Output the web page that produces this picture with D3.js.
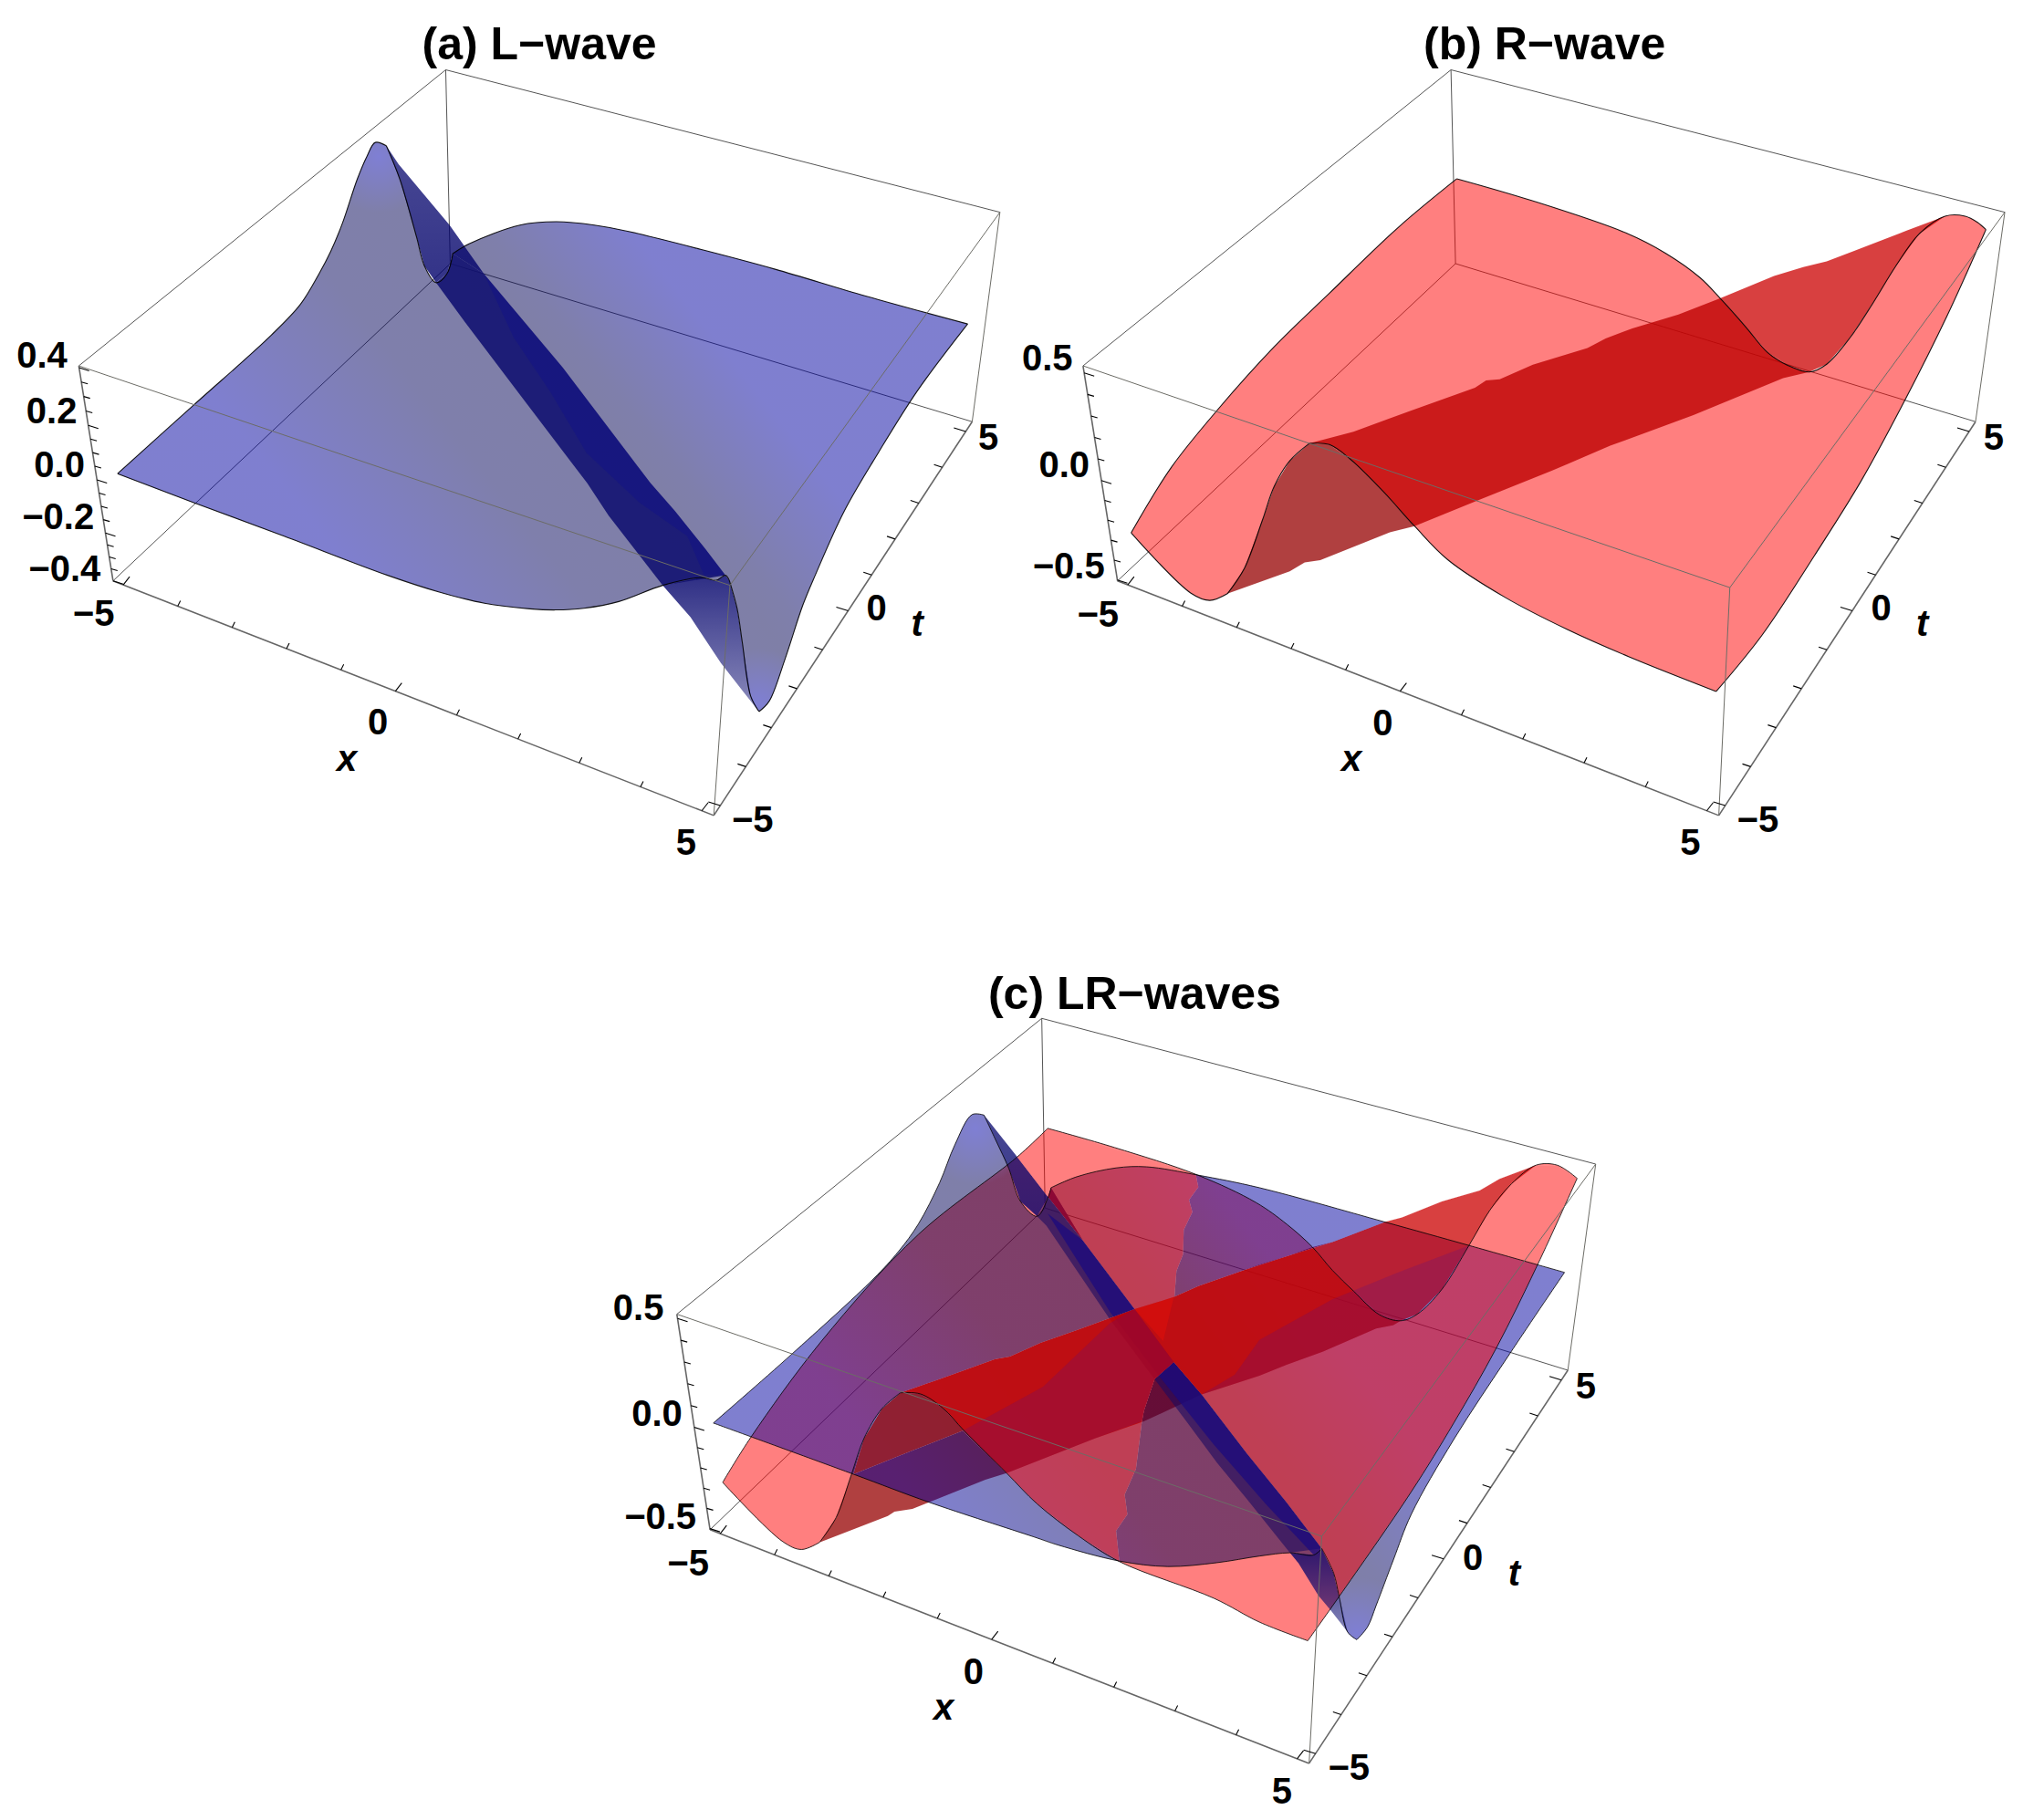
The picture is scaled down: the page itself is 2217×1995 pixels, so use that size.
<!DOCTYPE html>
<html><head><meta charset="utf-8">
<style>html,body{margin:0;padding:0;background:#fff}svg{display:block}text{font-family:"Liberation Sans",Arial,sans-serif;font-weight:700;fill:#000}</style>
<script src="https://cdn.jsdelivr.net/npm/d3@7"></script>
</head><body>
<script>
// ---- shared axis values ----
const xtValues = d3.range(-5, 6, 1);
const xtMajor = [-5, 0, 5];
const zValuesA = d3.range(-8, 9).map(i => i * 0.05);
const zMajorA = [-0.4, -0.2, 0, 0.2, 0.4];
const zValuesB = d3.range(-5, 6).map(i => i * 0.1);
const zMajorB = [-0.5, 0, 0.5];

// ---- panel (a): projected values (units: read grid 0..1568) ----
const aBox = [[690,125],[122,655],[1548,380],[1130,1048],[175,1040],[1505,755],[1105,1460],[697,472]];
const aLeftEdge = [[182,848],[300,725],[420,600],[465,545],[494,490],[512,450],[530,400],[553,321],[568,280],[581,255],[598,261]];
const aFoldTopLine = [[598,261],[619,321],[645,425],[657,476],[675,506],[692,490],[701,454]];
const aBackEdge = [[701,454],[727,436],[805,403],[861,397],[920,403],[975,415],[1090,448],[1200,482],[1340,530],[1498,580]];
const aRightEdge = [[1498,580],[1420,700],[1360,810],[1307,915],[1262,1030],[1243,1083],[1215,1181],[1191,1255],[1175,1274]];
const aFoldBottomLine = [[1175,1274],[1162,1246],[1149,1149],[1141,1089],[1129,1039]];
const aFrontEdge = [[1129,1039],[1123,1030],[1109,1039],[1085,1034],[1026,1048],[958,1077],[904,1089],[860,1092],[820,1090],[750,1080],[680,1060],[600,1030],[440,960],[300,900],[182,848]];
const aRidgeRight = [[598,261],[617,294],[696,403],[749,490],[871,658],[1007,865],[1045,915],[1092,983],[1123,1030]];
const aRidgeLeft = [[675,506],[720,577],[805,707],[909,865],[942,923],[1026,1048]];
const aTailLeft = [[1026,1048],[1069,1105],[1116,1187],[1149,1236],[1175,1274]];
const aRidgeInner = [[749,490],[795,604],[852,702],[908,811],[990,900],[1064,960],[1090,1030]];
const aLabels = [["0.4",65,635],["0.2",80,735],["0.0",92,832],["−0.2",90,925],["−0.4",100,1018],["−5",145,1098],["0",585,1292],["5",1062,1507],["−5",1165,1467],["0",1357,1088],["5",1530,782]];
const aAxisNames = [["x",537,1357],["t",1420,1115]];
const aTitle = ["(a) L−wave",835,78];

// ---- panel (b) ----
const bBox = [[688,125],[122,655],[1540,380],[1117,1052],[175,1040],[1495,755],[1100,1460],[695,472]];
const bLeftEdge = [[196,954],[257,838],[328,735],[416,621],[501,525],[608,406],[697,320]];
const bTopEdge = [[697,320],[812,359],[957,417],[1019,454],[1071,497],[1102,534],[1142,586],[1175,631],[1206,654],[1239,666],[1266,652],[1301,606],[1337,543],[1372,477],[1408,419],[1448,387],[1479,387],[1498,398],[1511,411]];
const bRightEdge = [[1511,411],[1451,566],[1387,715],[1318,863],[1247,995],[1166,1138],[1096,1238]];
const bFrontEdge = [[1096,1238],[962,1176],[867,1127],[772,1070],[683,1002],[632,942],[583,879],[533,822],[501,796],[470,794]];
const bFoldLeftLine = [[470,794],[440,825],[416,871],[398,931],[370,1018],[344,1063]];
const bCornerEdge = [[344,1063],[317,1075],[288,1062],[196,954]];
const bRidgeUpper = [[470,794],[538,773],[627,735],[725,694],[742,681],[763,679],[814,653],[898,623],[926,606],[967,588],[1038,563],[1102,534],[1185,494],[1230,478],[1266,468],[1342,434],[1389,413],[1448,387]];
const bRidgeLower = [[344,1063],[440,1023],[463,1007],[487,1003],[594,953],[632,942],[725,898],[843,843],[933,798],[1061,743],[1199,677],[1239,666]];
const bLabels = [["0.5",67,640],["0.0",93,832],["−0.5",100,1012],["−5",145,1100],["0",583,1293],["5",1056,1507],["−5",1160,1467],["0",1350,1088],["5",1523,782]];
const bAxisNames = [["x",535,1357],["t",1413,1115]];
const bTitle = ["(b) R−wave",832,78];

// ---- panel (c) ----
const cBox = [[690,110],[140,648],[1525,375],[1112,1052],[190,1040],[1483,750],[1093,1465],[695,455]];
const cBlueLeftEdge = [[195,846],[312,722],[436,584],[474,534],[504,484],[536,409],[559,340],[585,285],[603,286]];
const cBlueFoldTopLine = [[603,286],[622,335],[640,382],[658,443],[683,470],[699,437],[704,418]];
const cBlueBackEdge = [[704,418],[743,398],[802,382],[848,380],[925,395],[1018,418],[1206,480],[1334,523],[1478,572]];
const cBlueRightEdge = [[1478,572],[1396,719],[1311,876],[1247,1012],[1220,1095],[1194,1178],[1181,1217],[1165,1240]];
const cBlueFoldBottomLine = [[1165,1240],[1151,1226],[1138,1160],[1130,1119],[1112,1074]];
const cBlueFrontEdge = [[1112,1074],[1100,1086],[1064,1082],[1018,1088],[954,1100],[880,1107],[807,1097],[715,1068],[678,1053],[520,990],[406,939],[195,846]];
const cBlueRidgeRight = [[603,286],[651,359],[697,431],[752,514],[830,639],[889,735],[931,794],[999,901],[1059,990],[1112,1074]];
const cBlueRidgeLeft = [[683,470],[697,487],[793,658],[860,766],[908,843],[954,918],[999,984],[1064,1082]];
const cBlueTailLeft = [[1064,1082],[1077,1101],[1107,1160],[1126,1187],[1151,1226]];
const cBlueRidgeInner = [[699,465],[745,553],[793,644],[860,750],[949,885],[1029,995],[1100,1086]];
const cRedLeftEdge = [[209,954],[252,871],[358,697],[504,503],[653,362],[699,310]];
const cRedTopEdge = [[699,310],[800,345],[925,395],[1013,445],[1060,485],[1098,526],[1128,568],[1160,606],[1199,649],[1231,660],[1256,648],[1293,603],[1334,523],[1366,458],[1398,411],[1435,377],[1467,377],[1497,401]];
const cRedRightEdge = [[1497,401],[1437,559],[1375,710],[1311,846],[1247,971],[1138,1162],[1091,1242]];
const cRedFrontEdge = [[1091,1242],[1018,1208],[950,1165],[807,1098],[745,1051],[683,993],[637,937],[573,860],[541,819],[507,793],[477,791]];
const cRedFoldLeftLine = [[477,791],[449,820],[422,874],[403,940],[380,1018],[355,1063]];
const cRedCornerEdge = [[355,1063],[328,1076],[300,1062],[209,954]];
const cRedRidgeUpper = [[477,791],[536,766],[619,730],[642,725],[688,700],[743,677],[830,639],[889,617],[926,597],[990,570],[1018,558],[1064,541],[1098,526],[1128,517],[1208,480],[1233,472],[1293,443],[1350,423],[1380,402],[1435,377]];
const cRedRidgeLower = [[355,1063],[458,1015],[468,1007],[495,1002],[520,990],[605,949],[637,937],[770,874],[844,843],[931,794],[1018,760],[1059,740],[1114,716],[1194,674],[1220,668],[1231,660]];
const cRedOnTopUpper = [[645,365],[699,310],[922,393],[926,417],[912,440],[917,462],[904,495],[903,539],[893,570],[890,617],[830,639],[752,514],[697,431],[651,359]];
const cRedOnTopRidge = [[477,791],[536,766],[619,730],[642,725],[688,700],[743,677],[830,639],[889,617],[926,597],[990,570],[1064,541],[1128,517],[1208,480],[1233,472],[1293,443],[1350,423],[1380,402],[1435,377],[1398,411],[1366,458],[1334,523],[1293,603],[1256,648],[1231,660],[1220,668],[1194,674],[1114,716],[1059,740],[1018,760],[931,794],[889,735],[860,766],[844,824],[841,843],[770,874],[637,937],[571,860],[495,896],[406,939],[422,874],[449,820]];
const cRedOnTopLowerLeft = [[637,937],[770,874],[841,843],[832,929],[815,976],[819,1012],[802,1042],[807,1098],[745,1051],[683,993]];
const cRedOnTopRight = [[931,794],[1018,760],[1059,740],[1114,716],[1194,674],[1220,668],[1231,660],[1256,648],[1293,603],[1334,523],[1366,458],[1398,411],[1435,377],[1467,377],[1497,401],[1437,559],[1375,710],[1311,846],[1247,971],[1138,1162],[1130,1119],[1112,1074],[1059,990],[999,901]];
const cCrimsonLeft = [[571,860],[692,780],[793,664],[830,639],[889,735],[860,766],[841,843],[770,874],[637,937]];
const cCrimsonRight = [[931,794],[981,758],[1018,695],[1128,621],[1229,571],[1334,523],[1293,603],[1256,648],[1231,660],[1220,668],[1194,674],[1114,716],[1059,740],[1018,760]];
const cBrightWedge = [[830,639],[889,617],[873,697]];
const cLabels = [["0.5",82,635],["0.0",110,828],["−0.5",115,1015],["−5",157,1100],["0",587,1297],["5",1052,1515],["−5",1153,1472],["0",1340,1090],["5",1510,778]];
const cAxisNames = [["x",542,1363],["t",1402,1118]];
const cTitle = ["(c) LR−waves",830,65];

// ---- page ----
const W = 2217, H = 1995;
const svg = d3.select("body").append("svg").attr("width", W).attr("height", H).attr("viewBox", `0 0 ${W} ${H}`);
svg.append("rect").attr("width", W).attr("height", H).attr("fill", "#fff");
const defs = svg.append("defs");

const fracX = d3.scaleLinear().domain([-5, 0, 5]).range([0.017, 0.47, 0.98]);
const fracT = d3.scaleLinear().domain([-5, 0, 5]).range([0.025, 0.52, 0.975]);

function makePanel(x0, y0, w, h) {
  const sx = d3.scaleLinear().domain([0, 1568]).range([x0, x0 + w]);
  const sy = d3.scaleLinear().domain([0, 1568]).range([y0, y0 + h]);
  const straight = d3.line().x(d => sx(d[0])).y(d => sy(d[1]));
  const smooth = d3.line().x(d => sx(d[0])).y(d => sy(d[1])).curve(d3.curveCatmullRom.alpha(0.5));
  const chain = segs => segs.map((s, i) => i ? straight(s).replace(/^M/, "L") : straight(s)).join("") + "Z";
  const smoothChain = segs => segs.map((s, i) => i ? smooth(s).replace(/^M/, "L") : smooth(s)).join("") + "Z";
  return { sx, sy, straight, smooth, chain, smoothChain };
}
const rev = a => a.slice().reverse();

function spread(p, id, a, b, stops) {
  const ax = p.sx(a[0]), ay = p.sy(a[1]), bx = p.sx(b[0]), by = p.sy(b[1]);
  const mx = (ax + bx) / 2, my = (ay + by) / 2, L = Math.hypot(bx - ax, by - ay);
  const ux = (bx - ax) / L, uy = (by - ay) / L, half = 380;
  const g = defs.append("linearGradient").attr("id", id).attr("gradientUnits", "userSpaceOnUse")
    .attr("x1", mx + uy * half).attr("y1", my - ux * half).attr("x2", mx - uy * half).attr("y2", my + ux * half);
  stops.forEach(s => g.append("stop").attr("offset", s[0]).attr("stop-color", s[1]));
  return `url(#${id})`;
}
const blueStops = [[0,"#0000a0"],[0.3,"#0000a0"],[0.46,"#000058"],[0.5,"#000050"],[0.68,"#000058"],[0.92,"#0000a0"],[1,"#0000a0"]];

function tipGlow(p, id, tip) {
  const g = defs.append("radialGradient").attr("id", id).attr("gradientUnits", "userSpaceOnUse")
    .attr("cx", p.sx(tip[0])).attr("cy", p.sy(tip[1])).attr("r", 62);
  g.append("stop").attr("offset", 0).attr("stop-color", "#7f7fd6").attr("stop-opacity", 0.95);
  g.append("stop").attr("offset", 1).attr("stop-color", "#7f7fd6").attr("stop-opacity", 0);
  return `url(#${id})`;
}

function foldGrad(id, opTop, opBottom) {
  const g = defs.append("linearGradient").attr("id", id).attr("x1", 0).attr("y1", 0).attr("x2", 0).attr("y2", 1);
  g.append("stop").attr("offset", 0).attr("stop-color", "#00006a").attr("stop-opacity", opTop);
  g.append("stop").attr("offset", 1).attr("stop-color", "#00006a").attr("stop-opacity", opBottom);
  return `url(#${id})`;
}

function drawBlue(g, p, s, id) {
  const base = p.smoothChain([s.left, s.foldTop, s.back, s.right, s.foldBottom, s.front]);
  g.append("path").attr("d", base).attr("fill", spread(p, id + "g", s.ridgeRight[0], rev(s.ridgeRight)[0], blueStops)).attr("fill-opacity", 0.5);
  g.append("path").attr("d", base).attr("fill", tipGlow(p, id + "t1", [s.left[s.left.length - 2][0] + 5, s.left[s.left.length - 2][1] + 25]));
  g.append("path").attr("d", base).attr("fill", tipGlow(p, id + "t2", [s.right[s.right.length - 1][0], s.right[s.right.length - 1][1] - 12]));
  const foldEnd = s.foldTop[s.foldTop.length - 1];
  g.append("path").attr("d", p.chain([s.foldTop, [foldEnd, s.ridgeRight[3]], rev(s.ridgeRight.slice(0, 4))]))
    .attr("fill", foldGrad(id + "f1", 0.72, 0.8));
  const cut = s.front.findIndex(d => d[0] === s.tailLeft[0][0] && d[1] === s.tailLeft[0][1]);
  g.append("path").attr("d", p.chain([s.tailLeft, s.foldBottom, s.front.slice(0, cut + 1)]))
    .attr("fill", foldGrad(id + "f2", 0.82, 0.45));
  const trough = s.foldTop.slice(-2).reverse();
  g.append("path").attr("d", p.chain([s.ridgeLeft, rev(s.ridgeRight.slice(3)), trough])).attr("fill", s.ridgeFill[0]).attr("fill-opacity", s.ridgeFill[1]);
  g.append("path").attr("d", p.chain([s.ridgeInner, rev(s.ridgeRight.slice(3))])).attr("fill", s.stripeFill[0]).attr("fill-opacity", s.stripeFill[1]);
}

function drawRed(g, p, s) {
  const base = p.smoothChain([s.left, s.top, s.right, s.front, s.foldLeft, s.corner]);
  g.append("path").attr("d", base).attr("fill", "#ff0000").attr("fill-opacity", 0.5);
  const frontTail = s.front.filter(d => d[1] <= s.ridgeLowerLeftY);
  g.append("path").attr("d", p.chain([s.foldLeft, s.ridgeLower.slice(0, s.foldSplit + 1), frontTail]))
    .attr("fill", "#950000").attr("fill-opacity", 0.75);
  const valley = s.top.slice(s.ridgeTopIndex, s.valleyIndex + 1);
  g.append("path").attr("d", p.chain([s.ridgeUpper.slice(0, s.ridgeUpperMid + 1), valley, rev(s.ridgeLower.slice(s.foldSplit)), frontTail]))
    .attr("fill", "#be0303").attr("fill-opacity", 0.8);
  const rise = s.top.slice(s.valleyIndex, s.topTipIndex + 1);
  g.append("path").attr("d", p.chain([s.ridgeUpper.slice(s.ridgeUpperMid), rev(rise), rev(valley)]))
    .attr("fill", "#cb0000").attr("fill-opacity", 0.75);
}

function drawBackLines(g, p, b) {
  const [bt, lt, rt, ft, lb, rb, fb, bb] = b;
  [[bt,lt],[bt,rt],[bt,bb],[bb,lb],[bb,rb]].forEach(l =>
    g.append("path").attr("d", p.straight(l)).attr("fill", "none").attr("stroke", "#555").attr("stroke-width", 1));
}
function drawFrontLines(g, p, b) {
  const [bt, lt, rt, ft, lb, rb, fb, bb] = b;
  [[lt,ft],[ft,rt],[ft,fb],[rt,rb]].forEach(l =>
    g.append("path").attr("d", p.straight(l)).attr("fill", "none").attr("stroke", "#6c6c66").attr("stroke-width", 1));
  [[lt,lb],[lb,fb],[fb,rb]].forEach(l =>
    g.append("path").attr("d", p.straight(l)).attr("fill", "none").attr("stroke", "#666").attr("stroke-width", 1.6));
}

function along(a, b, f) { return [a[0] + (b[0] - a[0]) * f, a[1] + (b[1] - a[1]) * f]; }

function drawTicks(g, p, b, zVals, zMajor, fracZ) {
  const [bt, lt, rt, ft, lb, rb, fb, bb] = b;
  const tick = (pt, dx, dy) => g.append("line")
    .attr("x1", p.sx(pt[0])).attr("y1", p.sy(pt[1])).attr("x2", p.sx(pt[0]) + dx).attr("y2", p.sy(pt[1]) + dy)
    .attr("stroke", "#000").attr("stroke-width", 1.1);
  xtValues.forEach(v => {
    const M = xtMajor.includes(v);
    tick(along(lb, fb, fracX(v)), M ? 7 : 3, M ? -9 : -6);
    tick(along(fb, rb, fracT(v)), M ? -13 : -9, M ? -4 : -3);
  });
  zVals.forEach(v => {
    const M = zMajor.some(m => Math.abs(m - v) < 1e-6);
    tick(along(lt, lb, fracZ(v)), M ? 11 : 7, M ? 3.5 : 2);
  });
}

function drawText(g, p, labels, names, title) {
  const put = (d, size) => g.append("text").attr("x", p.sx(d[1])).attr("y", p.sy(d[2])).attr("text-anchor", "middle").attr("dominant-baseline", "central").attr("font-size", size).text(d[0]);
  labels.forEach(d => put(d, 40));
  names.forEach(d => put(d, 40).attr("font-style", "italic"));
  put(title, 50);
}

function strokeEdges(g, p, list, color, width, op) {
  list.forEach(e => g.append("path").attr("d", p.smooth(e)).attr("fill", "none").attr("stroke", color).attr("stroke-width", width).attr("stroke-opacity", op).attr("stroke-linejoin", "round"));
}

// ===== Panel (a) =====
(function () {
  const p = makePanel(0, 0, 1110, 960);
  const g = svg.append("g");
  drawBackLines(g, p, aBox);
  drawBlue(g, p, { left: aLeftEdge, foldTop: aFoldTopLine, back: aBackEdge, right: aRightEdge, foldBottom: aFoldBottomLine, front: aFrontEdge,
    ridgeRight: aRidgeRight, ridgeLeft: aRidgeLeft, tailLeft: aTailLeft, ridgeInner: aRidgeInner,
    ridgeFill: ["#101070", 0.88], stripeFill: ["#0000a0", 0.2] }, "a");
  strokeEdges(g, p, [aLeftEdge, aFoldTopLine, aBackEdge, aRightEdge, aFoldBottomLine, aFrontEdge], "#000", 1.1, 0.9);
  drawFrontLines(g, p, aBox);
  drawTicks(g, p, aBox, zValuesA, zMajorA, d3.scaleLinear().domain([-0.4,-0.2,0,0.2,0.4]).range([1,0.777,0.53,0.277,0.008]));
  drawText(g, p, aLabels, aAxisNames, aTitle);
})();

// ===== Panel (b) =====
(function () {
  const p = makePanel(1100, 0, 1117, 960);
  const g = svg.append("g");
  drawBackLines(g, p, bBox);
  drawRed(g, p, { left: bLeftEdge, top: bTopEdge, right: bRightEdge, front: bFrontEdge, foldLeft: bFoldLeftLine, corner: bCornerEdge,
    ridgeUpper: bRidgeUpper, ridgeLower: bRidgeLower, ridgeLowerLeftY: 942, foldSplit: 5, ridgeUpperMid: 11, ridgeTopIndex: 5, valleyIndex: 9, topTipIndex: 15 });
  strokeEdges(g, p, [bLeftEdge, bTopEdge, bRightEdge, bFrontEdge, bFoldLeftLine, bCornerEdge], "#000", 1.1, 0.9);
  drawFrontLines(g, p, bBox);
  drawTicks(g, p, bBox, zValuesB, zMajorB, d3.scaleLinear().domain([-0.5,0,0.5]).range([0.996,0.533,0.033]));
  drawText(g, p, bLabels, bAxisNames, bTitle);
})();

// ===== Panel (c) =====
(function () {
  const p = makePanel(640, 1050, 1140, 945);
  const blue = { left: cBlueLeftEdge, foldTop: cBlueFoldTopLine, back: cBlueBackEdge, right: cBlueRightEdge, foldBottom: cBlueFoldBottomLine, front: cBlueFrontEdge,
    ridgeRight: cBlueRidgeRight, ridgeLeft: cBlueRidgeLeft, tailLeft: cBlueTailLeft, ridgeInner: cBlueRidgeInner,
    ridgeFill: ["#1a0a60", 0.6], stripeFill: ["#1a0a80", 0.72] };
  const red = { left: cRedLeftEdge, top: cRedTopEdge, right: cRedRightEdge, front: cRedFrontEdge, foldLeft: cRedFoldLeftLine, corner: cRedCornerEdge,
    ridgeUpper: cRedRidgeUpper, ridgeLower: cRedRidgeLower, ridgeLowerLeftY: 937, foldSplit: 6, ridgeUpperMid: 12, ridgeTopIndex: 5, valleyIndex: 9, topTipIndex: 15 };
  const g = svg.append("g");
  const under = g.append("g");
  drawBackLines(under, p, cBox);
  drawRed(under, p, red);
  drawBlue(under, p, blue, "c1");
  const clip = defs.append("clipPath").attr("id", "redOnTop");
  clip.append("path").attr("d", [cRedOnTopUpper, cRedOnTopRidge, cRedOnTopLowerLeft, cRedOnTopRight].map(a => p.straight(a) + "Z").join(""));
  const over = g.append("g").attr("clip-path", "url(#redOnTop)");
  over.append("rect").attr("width", W).attr("height", H).attr("fill", "#fff");
  drawBackLines(over, p, cBox);
  drawBlue(over, p, blue, "c2");
  drawRed(over, p, red);
  over.append("path").attr("d", p.straight(cCrimsonLeft) + "Z").attr("fill", "#460f96").attr("fill-opacity", 0.2);
  over.append("path").attr("d", p.straight(cCrimsonRight) + "Z").attr("fill", "#460f96").attr("fill-opacity", 0.2);
  over.append("path").attr("d", p.straight(cBrightWedge) + "Z").attr("fill", "#ff1000").attr("fill-opacity", 0.3);
  strokeEdges(g, p, [cBlueLeftEdge, cBlueFoldTopLine, cBlueBackEdge, cBlueRightEdge, cBlueFoldBottomLine, cBlueFrontEdge,
    cRedLeftEdge, cRedTopEdge, cRedRightEdge, cRedFrontEdge, cRedFoldLeftLine, cRedCornerEdge], "#000", 1, 0.8);
  drawFrontLines(g, p, cBox);
  drawTicks(g, p, cBox, zValuesB, zMajorB, d3.scaleLinear().domain([-0.5,0,0.5]).range([0.995,0.525,0.02]));
  drawText(g, p, cLabels, cAxisNames, cTitle);
})();
</script>
</body></html>
